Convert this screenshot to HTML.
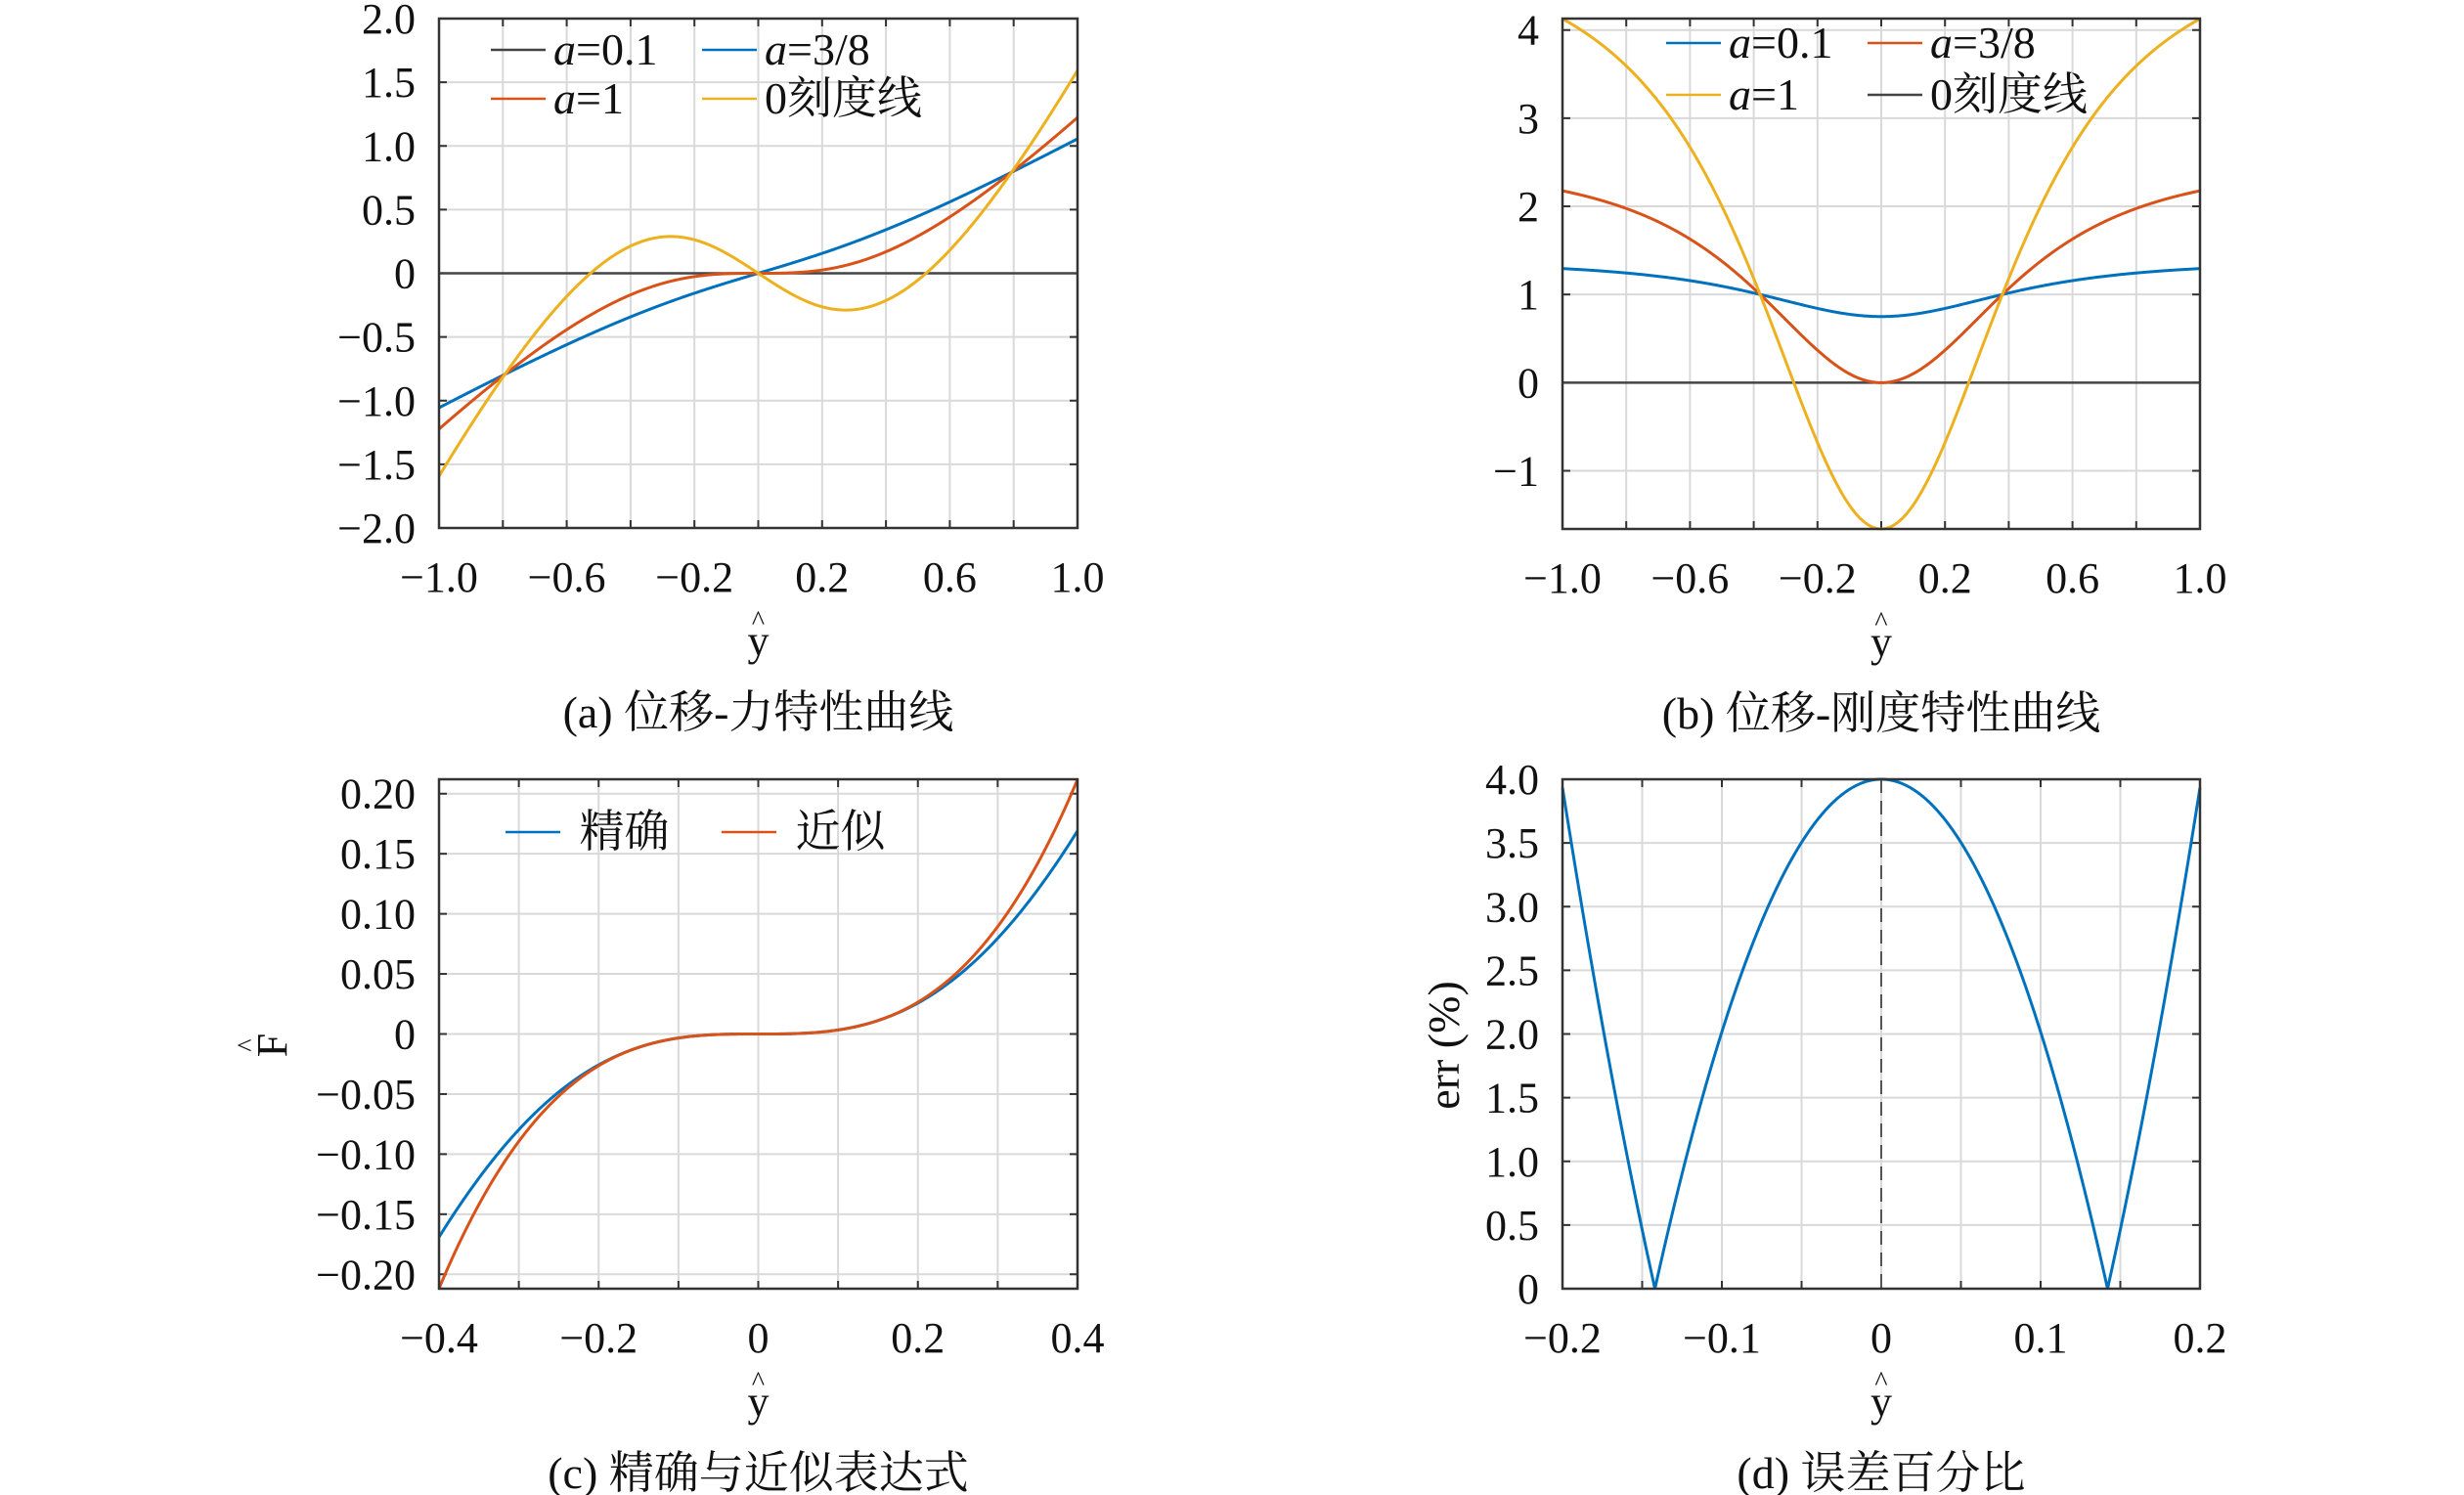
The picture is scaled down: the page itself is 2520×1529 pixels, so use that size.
<!DOCTYPE html>
<html><head><meta charset="utf-8">
<style>
html,body{margin:0;padding:0;background:#fff;}
svg{display:block;}
text{font-family:"Liberation Serif","Noto Serif CJK SC",serif;fill:#111;}
</style></head>
<body>
<svg id="s" xmlns="http://www.w3.org/2000/svg" width="2520" height="1529" viewBox="0 0 2520 1529"></svg>
<script>
const S=document.getElementById('s');
let out='';
const BL='#0072BD',RD='#D95319',YL='#EDB120';
function fmt(v,d){let s=Math.abs(v).toFixed(d);if(Math.abs(v)<1e-9)return '0';return (v<0?'\u2212':'')+s;}
function panel(o){
 const {x0,y0,x1,y1,xmin,xmax,ymin,ymax}=o;
 const X=v=>x0+(v-xmin)/(xmax-xmin)*(x1-x0);
 const Y=v=>y1-(v-ymin)/(ymax-ymin)*(y1-y0);
 o.X=X;o.Y=Y;
 o.xt.forEach(v=>{const x=X(v);out+=`<line x1="${x}" y1="${y0}" x2="${x}" y2="${y1}" stroke="#d9d9d9" stroke-width="2"/>`;
   out+=`<line x1="${x}" y1="${y1}" x2="${x}" y2="${y1-8}" stroke="#333" stroke-width="2"/><line x1="${x}" y1="${y0}" x2="${x}" y2="${y0+8}" stroke="#333" stroke-width="2"/>`;});
 o.yt.forEach(v=>{const y=Y(v);out+=`<line x1="${x0}" y1="${y}" x2="${x1}" y2="${y}" stroke="#d9d9d9" stroke-width="2"/>`;
   out+=`<line x1="${x0}" y1="${y}" x2="${x0+8}" y2="${y}" stroke="#333" stroke-width="2"/><line x1="${x1}" y1="${y}" x2="${x1-8}" y2="${y}" stroke="#333" stroke-width="2"/>`;});
 o.xl.forEach(v=>{out+=`<text x="${X(v)}" y="${y1+65}" font-size="44" text-anchor="middle">${fmt(v,o.xd)}</text>`;});
 o.yl.forEach(v=>{out+=`<text x="${x0-24}" y="${Y(v)+15}" font-size="44" text-anchor="end">${fmt(v,o.yd)}</text>`;});
 out+=`<text x="${(x0+x1)/2}" y="${y1+130}" font-size="44" text-anchor="middle">y</text><text x="${(x0+x1)/2}" y="${y1+104}" font-size="28" text-anchor="middle">^</text>`;
 out+=`<text x="${(x0+x1)/2}" y="${y1+204}" font-size="46" text-anchor="middle">${o.cap}</text>`;
}
function curve(o,f,a,b,col,w,dash){
 let d='';const N=600;
 for(let i=0;i<=N;i++){const v=a+(b-a)*i/N;let fy=f(v);
  fy=Math.max(o.ymin,Math.min(o.ymax,fy));
  d+=(i?'L':'M')+o.X(v).toFixed(2)+' '+o.Y(fy).toFixed(2);}
 out+=`<path d="${d}" fill="none" stroke="${col}" stroke-width="${w||3}" ${dash?'stroke-dasharray="'+dash+'"':''}/>`;
}
function frame(o){out+=`<rect x="${o.x0}" y="${o.y0}" width="${o.x1-o.x0}" height="${o.y1-o.y0}" fill="none" stroke="#333" stroke-width="2.5"/>`;}
const rng=(a,b,s)=>{let r=[];for(let v=a;v<=b+1e-9;v+=s)r.push(Math.round(v*1000)/1000);return r;};
const h=0.6,L0=0.995;
const Ff=(k2)=>y=>y+k2*y*(1-L0/Math.sqrt(y*y+h*h));
const Kf=(k2)=>y=>1+k2*(1-L0*h*h/Math.pow(y*y+h*h,1.5));
let A={x0:449,y0:19,x1:1102,y1:540,xmin:-1,xmax:1,ymin:-2,ymax:2,xt:rng(-1,1,0.2),yt:rng(-2,2,0.5),xl:[-1,-0.6,-0.2,0.2,0.6,1],yl:rng(-2,2,0.5),xd:1,yd:1,cap:'(a) 位移-力特性曲线'};
panel(A);
curve(A,y=>0,-1,1,'#444',2.5);
curve(A,Ff(0.38),-1,1,BL);curve(A,Ff(1.52),-1,1,RD);curve(A,Ff(4.04),-1,1,YL);
frame(A);
let B={x0:1598,y0:19,x1:2250,y1:541,xmin:-1,xmax:1,ymin:-1.66,ymax:4.13,xt:rng(-1,1,0.2),yt:[-1,0,1,2,3,4],xl:[-1,-0.6,-0.2,0.2,0.6,1],yl:[-1,0,1,2,3,4],xd:1,yd:0,cap:'(b) 位移-刚度特性曲线'};
panel(B);
curve(B,y=>0,-1,1,'#444',2.5);
curve(B,Kf(0.38),-1,1,BL);curve(B,Kf(1.52),-1,1,RD);curve(B,Kf(4.04),-1,1,YL);
frame(B);
let C={x0:449,y0:797,x1:1102,y1:1318,xmin:-0.4,xmax:0.4,ymin:-0.212,ymax:0.212,xt:rng(-0.4,0.4,0.1),yt:rng(-0.2,0.2,0.05),xl:[-0.4,-0.2,0,0.2,0.4],yl:rng(-0.2,0.2,0.05),xd:1,yd:2,cap:'(c) 精确与近似表达式'};
panel(C);
curve(C,Ff(1.52),-0.4,0.4,BL);curve(C,y=>3.31*y*y*y,-0.4,0.4,RD);
frame(C);
out+=`<text transform="translate(293,1069) rotate(-90)" font-size="44" text-anchor="middle">F</text><text transform="translate(262,1069) rotate(-90)" font-size="28" text-anchor="middle">^</text>`;
let D={x0:1598,y0:797,x1:2250,y1:1318,xmin:-0.2,xmax:0.2,ymin:0,ymax:4,xt:rng(-0.2,0.2,0.05),yt:rng(0,4,0.5),xl:[-0.2,-0.1,0,0.1,0.2],yl:rng(0,4,0.5),xd:1,yd:1,cap:'(d) 误差百分比'};
panel(D);
out+=`<line x1="${D.X(0)}" y1="797" x2="${D.X(0)}" y2="1318" stroke="#555" stroke-width="2" stroke-dasharray="14,8"/>`;
curve(D,y=>Math.abs(4-4*(y/0.142)*(y/0.142)),-0.2,0.2,BL);
frame(D);
out+=`<text transform="translate(1492,1069) rotate(-90)" font-size="46" text-anchor="middle">err (%)</text>`;
function leg(x,y,col,label){out+=`<line x1="${x}" y1="${y}" x2="${x+56}" y2="${y}" stroke="${col}" stroke-width="2.5"/><text x="${x+64}" y="${y+15}" font-size="46">${label}</text>`;}
const la=v=>`<tspan font-style="italic">a</tspan>=${v}`;
leg(502,51,'#444',la('0.1'));leg(718,51,BL,la('3/8'));
leg(502,101,RD,la('1'));leg(718,101,YL,'0刻度线');
leg(1704,44,BL,la('0.1'));leg(1910,44,RD,la('3/8'));
leg(1704,97,YL,la('1'));leg(1910,97,'#444','0刻度线');
leg(517,851,BL,'&#160;精确');leg(738,851,RD,'&#160;近似');
S.innerHTML=out;
</script>
</body></html>
